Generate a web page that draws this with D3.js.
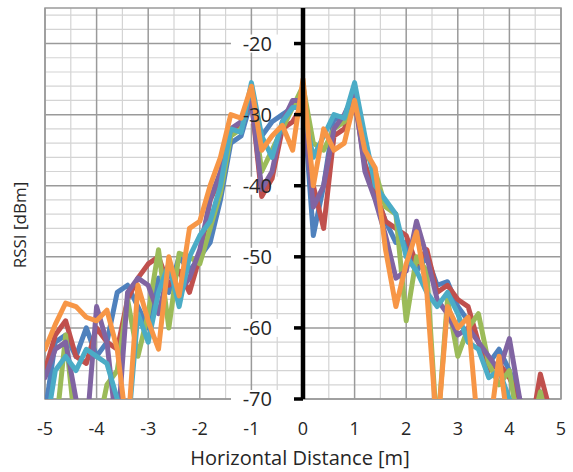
<!DOCTYPE html>
<html><head><meta charset="utf-8">
<script src="https://cdn.jsdelivr.net/npm/d3@7"></script>
<style>html,body{margin:0;padding:0;background:#fff;}svg{display:block;}</style>
</head><body>
<svg id="chart" width="573" height="472"></svg>
<script>
const xValues = [-5.0,-4.8,-4.6,-4.4,-4.2,-4.0,-3.8,-3.6,-3.4,-3.2,-3.0,-2.8,-2.6,-2.4,-2.2,-2.0,-1.8,-1.6,-1.4,-1.2,-1.0,-0.8,-0.6,-0.4,-0.2,0.0,0.2,0.4,0.6,0.8,1.0,1.2,1.4,1.6,1.8,2.0,2.2,2.4,2.6,2.8,3.0,3.2,3.4,3.6,3.8,4.0,4.2,4.4,4.6,4.8,5.0];
const seriesNames = ["S1","S2","S3","S4","S5","S6"];
const blue   = [-72,-62,-61,-64,-60,-64,-62,-55,-54,-57,-60,-53,-55,-50,-52,-50,-48,-42,-34,-33,-28,-33,-31,-30,-29,-27,-47,-40,-30.5,-31,-26,-37,-41,-45,-48,-48,-52,-50,-54,-53.5,-57,-59,-62,-65,-63,-66,-70,-75,-69,-71,-75];
const red    = [-66,-61,-59,-64,-65,-60,-62,-63,-56,-53,-51,-50,-54,-52,-55,-50,-42,-39,-33,-31,-28,-41.5,-39,-32,-31,-28.5,-40,-46,-33,-32,-28,-37,-41,-45,-46,-47,-51,-49,-55,-54,-56,-57,-62,-66,-65,-67,-70,-75,-66.5,-72,-75];
const green  = [-75,-75,-61,-75,-75,-75,-68,-66,-56,-64,-58,-49,-60,-49.5,-50,-51,-46,-41,-33,-32,-27,-38,-35,-32,-29,-26,-34,-35,-32,-31,-27.5,-35,-38,-43,-44,-59,-50,-52,-75,-56,-64,-60,-58,-65,-68,-66,-75,-75,-69,-75,-75];
const purple = [-67,-63,-62,-70,-75,-57,-62,-75,-55,-53,-54,-58,-52,-55,-53,-49,-42,-38,-32,-31,-28,-40.5,-38,-31,-28,-28,-43,-40,-32,-30,-27,-38,-42,-47,-53,-52,-45,-50,-56,-58,-61,-60,-62,-64,-66,-61.5,-70,-75,-75,-75,-75];
const cyan   = [-75,-66,-64,-66,-63,-64,-65,-70,-75,-58,-62,-55,-51,-57,-50,-47,-45,-40,-32,-32.5,-25.5,-33,-36,-31,-29,-29,-36,-33,-30,-30.5,-25.5,-33,-40,-42,-44,-50,-52,-55,-57,-55,-58,-62,-63,-67,-66,-70,-75,-75,-75,-75,-75];
const orange = [-63,-59.5,-56.5,-57,-58.5,-59,-57.5,-63,-75,-54,-59,-63,-50,-55.5,-46,-45,-40,-36,-30,-30.5,-26,-35,-33,-31.5,-35,-25,-40,-32,-35,-34,-28,-35,-37.5,-49,-57,-51,-46.5,-55,-75,-57,-60,-58.5,-75,-75,-64,-75,-75,-75,-75,-75,-75];
const seriesValues = [blue, red, green, purple, cyan, orange];
const colors = ["#4F81BD","#C0504D","#9BBB59","#8064A2","#4BACC6","#F79646"];
const xTicks = [-5,-4,-3,-2,-1,0,1,2,3,4,5];
const yTicks = [-70,-60,-50,-40,-30,-20];
const xMinor = [-4.5,-3.5,-2.5,-1.5,-0.5,0.5,1.5,2.5,3.5,4.5];
const yMinor = [-68,-66,-64,-62,-58,-56,-54,-52,-48,-46,-44,-42,-38,-36,-34,-32,-28,-26,-24,-22,-18,-16];
const xTitle = "Horizontal Distance [m]";
const yTitle = "RSSI [dBm]";

const svg = d3.select("#chart");
const x = d3.scaleLinear().domain([-5,5]).range([45,561]);
const y = d3.scaleLinear().domain([-70,-15]).range([399,8]);
const font = "'Open Sans', sans-serif";

// minor grid
svg.append("g").selectAll("line").data(xMinor).join("line")
  .attr("x1", d=>x(d)).attr("x2", d=>x(d)).attr("y1", y(-15)).attr("y2", y(-70))
  .attr("stroke", "#d4d4d4").attr("stroke-width", 1.2);
svg.append("g").selectAll("line").data(yMinor).join("line")
  .attr("x1", x(-5)).attr("x2", x(5)).attr("y1", d=>y(d)).attr("y2", d=>y(d))
  .attr("stroke", "#d4d4d4").attr("stroke-width", 1.2);
// major grid
svg.append("g").selectAll("line").data(xTicks).join("line")
  .attr("x1", d=>x(d)).attr("x2", d=>x(d)).attr("y1", y(-15)).attr("y2", y(-70))
  .attr("stroke", "#9a9a9a").attr("stroke-width", 1.5);
svg.append("g").selectAll("line").data(yTicks).join("line")
  .attr("x1", x(-5)).attr("x2", x(5)).attr("y1", d=>y(d)).attr("y2", d=>y(d))
  .attr("stroke", "#9a9a9a").attr("stroke-width", 1.5);
svg.append("rect").attr("x", x(-5)).attr("y", y(-15)).attr("width", x(5)-x(-5)).attr("height", y(-70)-y(-15))
  .attr("fill", "none").attr("stroke", "#9a9a9a").attr("stroke-width", 1.5);

// label boxes
svg.append("g").selectAll("rect").data(yTicks).join("rect")
  .attr("x", x(0)-72).attr("y", d=>y(d)-9).attr("width", 64).attr("height", 18).attr("fill", "#fff");

// clip
svg.append("clipPath").attr("id","clip").append("rect")
  .attr("x", x(-5)).attr("y", y(-15)).attr("width", x(5)-x(-5)).attr("height", y(-70)-y(-15));

const line = d3.line().x((d,i)=>x(xValues[i])).y(d=>y(d));
svg.append("g").attr("clip-path","url(#clip)").selectAll("path").data(seriesValues).join("path")
  .attr("d", d=>line(d)).attr("fill","none")
  .attr("stroke", (d,i)=>colors[i]).attr("stroke-width", 5)
  .attr("stroke-linejoin","round").attr("stroke-linecap","round");

// zero axis
svg.append("line").attr("x1", x(0)).attr("x2", x(0)).attr("y1", y(-15)).attr("y2", y(-70))
  .attr("stroke", "#000").attr("stroke-width", 4.5);
svg.append("g").selectAll("line").data(yTicks).join("line")
  .attr("x1", x(0)-9).attr("x2", x(0)).attr("y1", d=>y(d)).attr("y2", d=>y(d))
  .attr("stroke", "#000").attr("stroke-width", 3.5);

// y labels
svg.append("g").selectAll("text").data(yTicks).join("text")
  .attr("x", x(0)-31).attr("y", d=>y(d)+7).attr("text-anchor","end")
  .attr("font-family", font).attr("font-size", 20).attr("fill", "#262626")
  .text(d=>d);
// x labels
svg.append("g").selectAll("text").data(xTicks).join("text")
  .attr("x", d=>x(d)).attr("y", 435).attr("text-anchor","middle")
  .attr("font-family", font).attr("font-size", 18).attr("fill", "#262626")
  .text(d=>d);
svg.append("text").attr("x", 300).attr("y", 465).attr("text-anchor","middle")
  .attr("font-family", font).attr("font-size", 20).attr("fill", "#262626").text(xTitle);
svg.append("text").attr("transform", "translate(26,225) rotate(-90)").attr("text-anchor","middle")
  .attr("font-family", font).attr("font-size", 17).attr("fill", "#262626").text(yTitle);
</script>
</body></html>
